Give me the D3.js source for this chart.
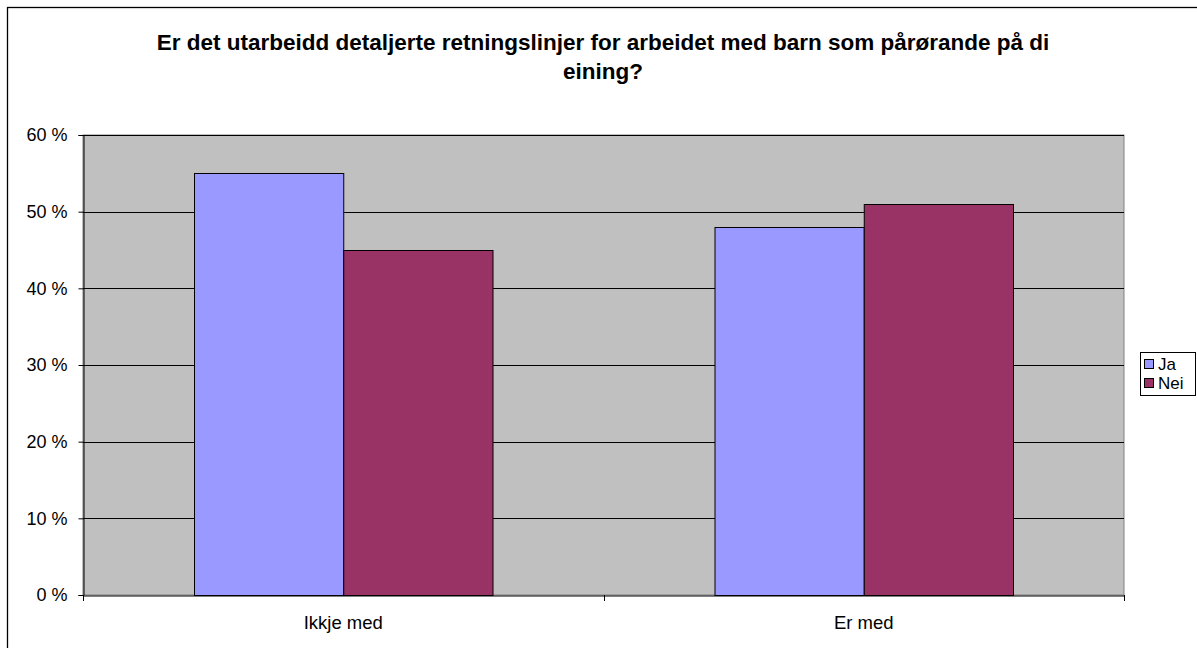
<!DOCTYPE html>
<html>
<head>
<meta charset="utf-8">
<script src="https://cdn.jsdelivr.net/npm/d3@7"></script>
<style>
  html, body { margin: 0; padding: 0; background: #fff; }
  svg { display: block; font-family: "Liberation Sans", Arial, sans-serif; }
</style>
</head>
<body>
<svg id="chart" width="1197" height="648"></svg>
<script>
// Survey result: detailed guidelines for work with children as next of kin
const titleLines = ["Er det utarbeidd detaljerte retningslinjer for arbeidet med barn som pårørande på di", "eining?"];
const categories = ["Ikkje med", "Er med"];
const seriesNames = ["Ja", "Nei"];
const jaValues = [55, 48];
const neiValues = [45, 51];
const yTicks = [0, 10, 20, 30, 40, 50, 60];
const colors = ["#9999ff", "#993366"];

const svg = d3.select("#chart");
const font = "'Liberation Sans', Arial, sans-serif";

// outer chart frame
svg.append("rect")
  .attr("x", 7.5).attr("y", 7.5)
  .attr("width", 1197).attr("height", 660)
  .attr("fill", "#fff").attr("stroke", "#000").attr("stroke-width", 1.3);

const plot = { left: 83, top: 135, right: 1124, bottom: 595 };

const x0 = d3.scaleBand().domain(categories)
  .range([plot.left, plot.right]).paddingInner(0).paddingOuter(0);
const x1 = d3.scaleBand().domain(seriesNames)
  .range([111, x0.bandwidth() - 111]);
const y = d3.scaleLinear().domain([0, 60]).range([plot.bottom, plot.top]);

// plot background
svg.append("rect")
  .attr("x", plot.left).attr("y", plot.top)
  .attr("width", plot.right - plot.left).attr("height", plot.bottom - plot.top)
  .attr("fill", "#c0c0c0").attr("stroke", "#808080").attr("stroke-width", 1);

// gridlines
svg.append("g").selectAll("line")
  .data(yTicks.filter(t => t > 0))
  .join("line")
  .attr("x1", plot.left).attr("x2", plot.right)
  .attr("y1", d => Math.round(y(d)) + 0.5).attr("y2", d => Math.round(y(d)) + 0.5)
  .attr("stroke", "#000").attr("stroke-width", 1);

// bars
const rows = categories.map((c, i) => ({ cat: c, vals: [jaValues[i], neiValues[i]] }));
const groups = svg.append("g").selectAll("g")
  .data(rows).join("g")
  .attr("transform", d => `translate(${x0(d.cat)},0)`);
groups.selectAll("rect")
  .data(d => d.vals.map((v, j) => ({ name: seriesNames[j], v, j })))
  .join("rect")
  .attr("x", d => x1(d.name) + 0.5)
  .attr("y", d => Math.round(y(d.v)) + 0.5)
  .attr("width", x1.bandwidth())
  .attr("height", d => y(0) - Math.round(y(d.v)))
  .attr("fill", d => colors[d.j])
  .attr("stroke", "#000").attr("stroke-width", 1);

// y axis
const yAxis = svg.append("g")
  .attr("transform", `translate(${plot.left + 0.5},0)`)
  .call(d3.axisLeft(y).tickValues(yTicks).tickSize(5).tickPadding(11)
    .tickFormat(d => d + " %"));
yAxis.select(".domain").attr("stroke", "#000");
yAxis.selectAll(".tick line").attr("stroke", "#000");
yAxis.selectAll("text").attr("font-size", 18).attr("fill", "#000")
  .attr("font-family", font);

// x axis
const xAxis = svg.append("g")
  .attr("transform", `translate(0,${plot.bottom + 0.5})`)
  .call(d3.axisBottom(x0).tickSize(0).tickPadding(20));
xAxis.select(".domain").attr("stroke", "#000");
xAxis.selectAll("text").attr("font-size", 18.5).attr("fill", "#000")
  .attr("font-family", font);
// category separators
svg.append("g").selectAll("line")
  .data([plot.left, x0.range()[0] + x0.bandwidth(), plot.right])
  .join("line")
  .attr("x1", d => Math.round(d) + 0.5).attr("x2", d => Math.round(d) + 0.5)
  .attr("y1", plot.bottom).attr("y2", plot.bottom + 6)
  .attr("stroke", "#000");

// title
svg.append("text")
  .attr("text-anchor", "middle")
  .attr("font-size", 22.5).attr("font-weight", "bold")
  .attr("font-family", font)
  .selectAll("tspan").data(titleLines).join("tspan")
  .attr("x", 603).attr("y", (d, i) => 50 + i * 29)
  .text(d => d);

// legend
const lg = svg.append("g").attr("transform", "translate(1140,352)");
lg.append("rect").attr("x", 0.5).attr("y", 0.5).attr("width", 55).attr("height", 43)
  .attr("fill", "#fff").attr("stroke", "#000");
const items = lg.selectAll("g.item").data(seriesNames).join("g")
  .attr("class", "item")
  .attr("transform", (d, i) => `translate(4,${7 + i * 19})`);
items.append("rect").attr("x", 0.5).attr("y", 0.5).attr("width", 9).attr("height", 9)
  .attr("fill", (d, i) => colors[i]).attr("stroke", "#000");
items.append("text").attr("x", 14).attr("y", 11)
  .attr("font-size", 17).attr("font-family", font).text(d => d);
</script>
</body>
</html>
